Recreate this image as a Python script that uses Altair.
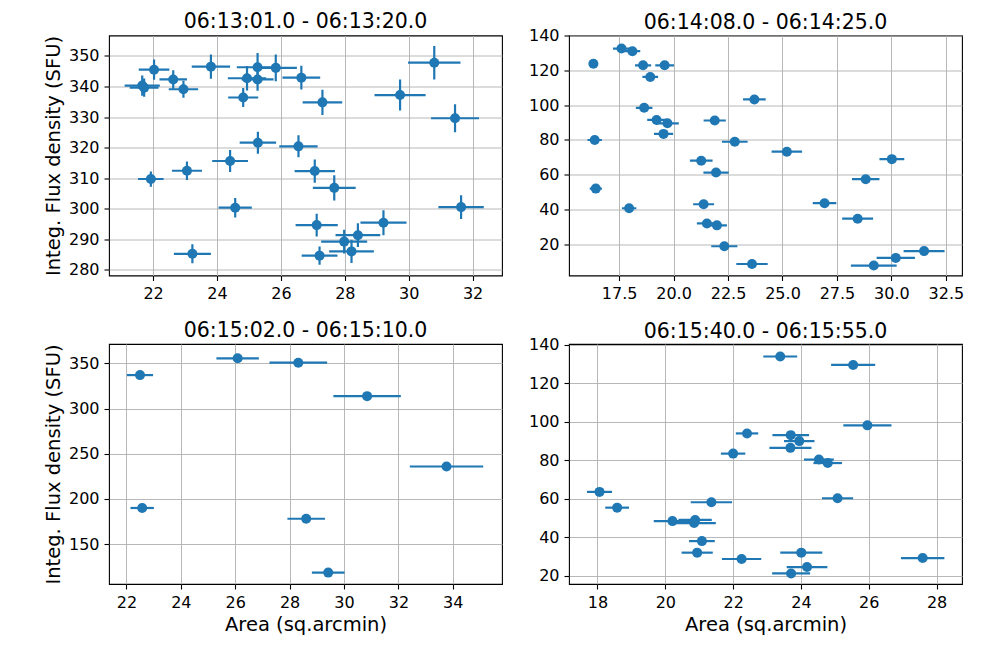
import altair as alt
import pandas as pd

FONT = "DejaVu Sans"
BLUE = "#1f77b4"

# ---- Panel 1: 06:13:01.0 - 06:13:20.0
p1_x = [21.66, 21.72, 22.03, 22.63, 22.95, 23.81, 24.82, 24.94, 25.27, 25.27, 25.84, 26.64, 27.30, 29.73, 30.80, 31.45,
        25.28, 26.55, 24.41, 21.93, 23.06, 27.06, 27.67, 24.57, 31.64, 27.12, 29.21, 28.41, 27.98, 28.21, 27.21, 23.23]
p1_y = [340.3, 339.6, 345.5, 342.3, 339.1, 346.5, 336.4, 342.7, 346.3, 342.3, 346.1, 342.9, 334.8, 337.2, 347.8, 329.6,
        321.6, 320.4, 315.6, 309.7, 312.4, 312.3, 306.8, 300.3, 300.5, 294.6, 295.4, 291.3, 289.2, 286.0, 284.6, 285.2]
p1_xerr = [0.55, 0.45, 0.48, 0.43, 0.46, 0.60, 0.47, 0.60, 0.65, 0.50, 0.66, 0.59, 0.62, 0.80, 0.82, 0.75,
           0.57, 0.60, 0.56, 0.40, 0.47, 0.63, 0.67, 0.52, 0.71, 0.66, 0.72, 0.70, 0.72, 0.70, 0.56, 0.58]
p1_yerr = [3.3, 3.0, 3.3, 3.0, 2.8, 4.0, 3.1, 4.0, 4.7, 3.7, 4.4, 3.9, 4.1, 5.1, 5.5, 4.6,
           3.6, 3.6, 3.6, 2.5, 3.0, 3.8, 4.1, 3.2, 3.9, 3.7, 4.1, 3.9, 3.9, 3.8, 3.0, 3.1]

# ---- Panel 2: 06:14:08.0 - 06:14:25.0
p2_x = [17.61, 18.11, 16.32, 18.60, 19.59, 18.93, 23.71, 18.65, 19.22, 19.72, 21.89, 19.54, 16.38, 22.81, 25.20, 30.02,
        21.27, 21.95, 28.82, 16.43, 17.96, 21.38, 26.93, 28.45, 21.53, 21.99, 22.33, 31.50, 30.20, 23.60, 29.19]
p2_y = [132.5, 131.0, 123.8, 122.9, 122.9, 116.2, 103.3, 98.5, 91.5, 89.6, 91.2, 83.5, 80.0, 79.0, 73.3, 69.0,
        68.1, 61.3, 57.5, 52.1, 40.8, 43.1, 43.7, 34.8, 32.1, 31.0, 19.0, 16.2, 12.3, 8.8, 7.9]
p2_xerr = [0.39, 0.36, 0.20, 0.37, 0.43, 0.36, 0.52, 0.38, 0.43, 0.52, 0.51, 0.44, 0.33, 0.59, 0.70, 0.57,
           0.52, 0.58, 0.63, 0.28, 0.33, 0.48, 0.54, 0.71, 0.46, 0.46, 0.60, 0.94, 0.88, 0.72, 1.05]
p2_yerr = [0.8] * len(p2_x)

# ---- Panel 3: 06:15:02.0 - 06:15:10.0
p3_x = [22.50, 26.09, 28.32, 30.85, 33.77, 22.58, 28.61, 29.42]
p3_y = [337.0, 355.6, 350.7, 313.7, 235.9, 190.0, 178.1, 118.5]
p3_xerr = [0.48, 0.78, 1.06, 1.24, 1.35, 0.43, 0.69, 0.60]
p3_yerr = [2.0] * len(p3_x)

# ---- Panel 4: 06:15:40.0 - 06:15:55.0
p4_x = [23.39, 25.54, 25.96, 22.41, 23.70, 23.95, 23.69, 22.00, 24.53, 24.79, 18.06, 25.08, 18.58, 21.36, 20.21, 20.88,
        20.85, 21.08, 20.94, 24.01, 22.25, 27.59, 24.18, 23.71]
p4_y = [134.0, 129.6, 98.2, 94.0, 93.1, 90.0, 86.5, 83.5, 80.4, 78.6, 63.6, 60.3, 55.4, 58.2, 48.4, 49.0,
        47.4, 38.0, 32.0, 32.0, 28.7, 29.2, 24.5, 21.2]
p4_xerr = [0.50, 0.65, 0.71, 0.33, 0.54, 0.45, 0.62, 0.36, 0.44, 0.42, 0.37, 0.46, 0.35, 0.61, 0.55, 0.49,
           0.64, 0.38, 0.46, 0.62, 0.58, 0.64, 0.60, 0.56]
p4_yerr = [0.8] * len(p4_x)

titles = ["06:13:01.0 - 06:13:20.0", "06:14:08.0 - 06:14:25.0",
          "06:15:02.0 - 06:15:10.0", "06:15:40.0 - 06:15:55.0"]
x_label = "Area (sq.arcmin)"
y_label = "Integ. Flux density (SFU)"

W, H = 393, 240


def make_df(x, y, xerr, yerr):
    df = pd.DataFrame({"x": x, "y": y, "xerr": xerr, "yerr": yerr})
    df["xlo"] = df["x"] - df["xerr"]
    df["xhi"] = df["x"] + df["xerr"]
    df["ylo"] = df["y"] - df["yerr"]
    df["yhi"] = df["y"] + df["yerr"]
    return df


def panel(df, title, xdom, ydom, xticks, yticks, xfmt, show_xt, show_yt, toff):
    xscale = alt.Scale(domain=xdom, nice=False, zero=False)
    yscale = alt.Scale(domain=ydom, nice=False, zero=False)
    xaxis = alt.Axis(values=xticks, format=xfmt)
    yaxis = alt.Axis(values=yticks, format="d")
    xt = x_label if show_xt else None
    yt = y_label if show_yt else None

    def X(f):
        return alt.X(f"{f}:Q", scale=xscale, axis=xaxis, title=xt)

    def Y(f):
        return alt.Y(f"{f}:Q", scale=yscale, axis=yaxis, title=yt)

    base = alt.Chart(df)
    xe = base.mark_rule(color=BLUE, strokeWidth=2.2, clip=True).encode(
        x=X("xlo"), x2="xhi:Q", y=Y("y"))
    ye = base.mark_rule(color=BLUE, strokeWidth=2.2, clip=True).encode(
        x=X("x"), y=Y("ylo"), y2="yhi:Q")
    pts = base.mark_circle(color=BLUE, size=100, opacity=1, clip=True).encode(
        x=X("x"), y=Y("y"))
    return alt.layer(xe, ye, pts).properties(
        width=W, height=H, title=alt.TitleParams(text=title, offset=toff))


c1 = panel(make_df(p1_x, p1_y, p1_xerr, p1_yerr), titles[0], [20.62, 32.92], [278.1, 356.7],
           [22, 24, 26, 28, 30, 32], [280, 290, 300, 310, 320, 330, 340, 350], "d", False, True, 2.5)
c2 = panel(make_df(p2_x, p2_y, p2_xerr, p2_yerr), titles[1], [15.2, 33.24], [2.2, 140.0],
           [17.5, 20.0, 22.5, 25.0, 27.5, 30.0, 32.5], [20, 40, 60, 80, 100, 120, 140], ".1f", False, False, -5.5)
c3 = panel(make_df(p3_x, p3_y, p3_xerr, p3_yerr), titles[2], [21.36, 35.81], [105.9, 371.4],
           [22, 24, 26, 28, 30, 32, 34], [150, 200, 250, 300, 350], "d", True, True, 2.5)
c4 = panel(make_df(p4_x, p4_y, p4_xerr, p4_yerr), titles[3], [17.16, 28.75], [15.7, 140.5],
           [18, 20, 22, 24, 26, 28], [20, 40, 60, 80, 100, 120, 140], "d", True, False, -5.5)

chart = alt.concat(c1, c2, c3, c4, columns=2, spacing={"row": 17.5, "column": 24}).properties(
    padding={"left": 34, "top": 3.5, "right": 5, "bottom": 5}
).configure_view(
    stroke="black", strokeWidth=1.1
).configure_axis(
    grid=True, gridColor="#b0b0b0", gridWidth=0.9, domain=False,
    tickColor="black", tickSize=5, tickWidth=1.1,
    labelFont=FONT, labelFontSize=16, labelColor="black", labelPadding=5,
    titleFont=FONT, titleFontSize=19.5, titleFontWeight="normal", titleColor="black", titlePadding=5
).configure_title(
    font=FONT, fontSize=20.5, fontWeight="normal", color="black"
)

chart.save("out.html", embed_options={"renderer": "svg", "actions": False})
